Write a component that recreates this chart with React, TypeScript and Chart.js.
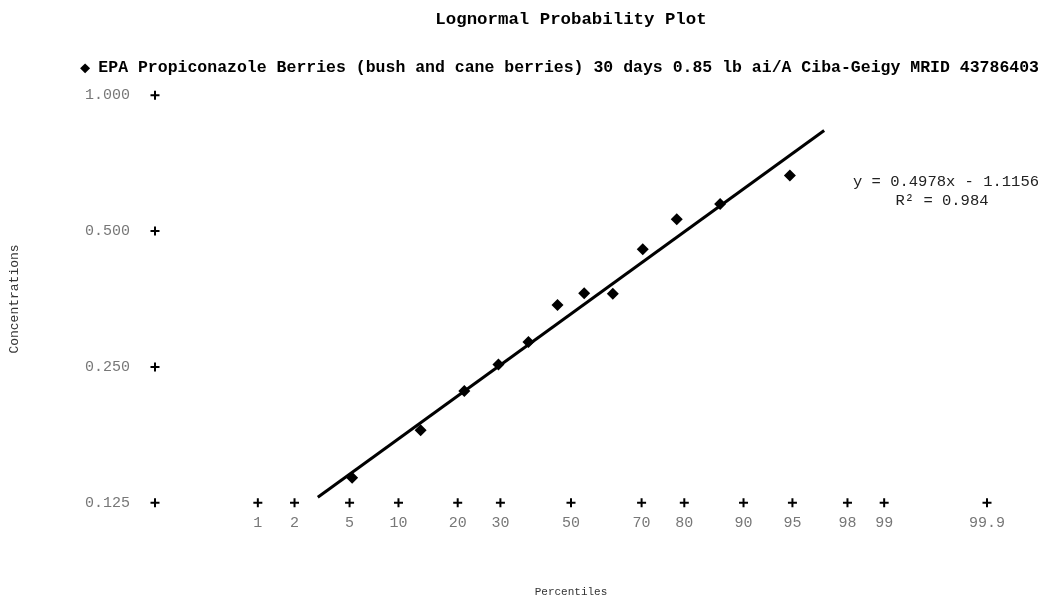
import React, { useEffect, useRef } from 'react';
import { Chart, registerables } from 'chart.js';

Chart.register(...registerables);

// ---------- data ----------
const TITLE = 'Lognormal Probability Plot';
const SERIES_NAME =
  'EPA Propiconazole Berries (bush and cane berries) 30 days 0.85 lb ai/A Ciba-Geigy MRID 43786403';
const X_TITLE = 'Percentiles';
const Y_TITLE = 'Concentrations';

// plotting positions (percentiles) and concentrations of the residue samples
const DATA_PERCENTILES = [5.2, 13.2, 21.4, 29.5, 37.6, 46.0, 53.9, 62.2, 70.3, 78.4, 86.6, 94.8];
const DATA_CONC = [0.142, 0.181, 0.221, 0.253, 0.284, 0.343, 0.364, 0.363, 0.456, 0.531, 0.574, 0.664];

// fitted trendline: ln(conc) = slope * z + intercept
const FIT_SLOPE = 0.4978;
const FIT_INTERCEPT = -1.1156;
const FIT_PCT_RANGE = [3, 97];
const EQUATION_TEXT = 'y = 0.4978x - 1.1156';
const R2_TEXT = 'R\u00B2 = 0.984';

// axes
const X_RANGE_PCTS = [0.1, 99.9];
const X_TICK_PCTS = [1, 2, 5, 10, 20, 30, 50, 70, 80, 90, 95, 98, 99, 99.9];
const X_TICK_LABELS = ['1', '2', '5', '10', '20', '30', '50', '70', '80', '90', '95', '98', '99', '99.9'];
const Y_TICKS = [0.125, 0.25, 0.5, 1];
const Y_TICK_LABELS = ['0.125', '0.250', '0.500', '1.000'];

// ---------- helpers ----------
function probit(p: number): number {
  const a = [-3.969683028665376e1, 2.209460984245205e2, -2.759285104469687e2, 1.38357751867269e2, -3.066479806614716e1, 2.506628277459239];
  const b = [-5.447609879822406e1, 1.615858368580409e2, -1.556989798598866e2, 6.680131188771972e1, -1.328068155288572e1];
  const c = [-7.784894002430293e-3, -3.223964580411365e-1, -2.400758277161838, -2.549732539343734, 4.374664141464968, 2.938163982698783];
  const d = [7.784695709041462e-3, 3.224671290700398e-1, 2.445134137142996, 3.754408661907416];
  const pl = 0.02425;
  const ph = 1 - pl;
  let q: number;
  let r: number;
  if (p < pl) {
    q = Math.sqrt(-2 * Math.log(p));
    return (((((c[0] * q + c[1]) * q + c[2]) * q + c[3]) * q + c[4]) * q + c[5]) /
      ((((d[0] * q + d[1]) * q + d[2]) * q + d[3]) * q + 1);
  }
  if (p > ph) {
    q = Math.sqrt(-2 * Math.log(1 - p));
    return -(((((c[0] * q + c[1]) * q + c[2]) * q + c[3]) * q + c[4]) * q + c[5]) /
      ((((d[0] * q + d[1]) * q + d[2]) * q + d[3]) * q + 1);
  }
  q = p - 0.5;
  r = q * q;
  return ((((((a[0] * r + a[1]) * r + a[2]) * r + a[3]) * r + a[4]) * r + a[5]) * q) /
    (((((b[0] * r + b[1]) * r + b[2]) * r + b[3]) * r + b[4]) * r + 1);
}
const z = (pct: number) => probit(pct / 100);

const MONO = "'Liberation Mono', 'DejaVu Sans Mono', monospace";

const equationPlugin = {
  id: 'equationText',
  afterDatasetsDraw(chart: any) {
    const { ctx, chartArea } = chart;
    ctx.save();
    ctx.fillStyle = '#222';
    ctx.font = `15.5px ${MONO}`;
    ctx.textAlign = 'center';
    ctx.textBaseline = 'middle';
    const cx = chartArea.right - 41;
    ctx.fillText(EQUATION_TEXT, cx, chartArea.top + 87);
    ctx.fillText(R2_TEXT, cx - 4, chartArea.top + 106);
    ctx.restore();
  },
};

const spacer = (axis: 'h' | 'v', size: number, position: string) => ({
  type: 'linear',
  position,
  display: true,
  grid: { display: false, drawTicks: false },
  border: { display: false },
  ticks: { display: false },
  afterFit: (s: any) => {
    if (axis === 'h') s.height = size;
    else s.width = size;
  },
});

export default function App() {
  const ref = useRef<HTMLCanvasElement | null>(null);

  useEffect(() => {
    if (!ref.current) return;
    const points = DATA_PERCENTILES.map((p, i) => ({ x: z(p), y: DATA_CONC[i] }));
    const fit = FIT_PCT_RANGE.map((p) => ({ x: z(p), y: Math.exp(FIT_SLOPE * z(p) + FIT_INTERCEPT) }));
    const xMarks = X_TICK_PCTS.map((p) => ({ x: z(p), y: Y_TICKS[0] }));
    const yMarks = Y_TICKS.map((v) => ({ x: z(X_RANGE_PCTS[0]), y: v }));

    const chart = new Chart(ref.current, {
      type: 'scatter',
      data: {
        datasets: [
          {
            label: SERIES_NAME,
            data: points,
            xAxisID: 'x',
            yAxisID: 'y',
            pointStyle: 'rectRot',
            pointRadius: 6,
            pointBorderWidth: 0,
            backgroundColor: '#000',
            borderColor: '#000',
            borderWidth: 0,
          },
          {
            label: 'fit',
            data: fit,
            xAxisID: 'x',
            yAxisID: 'y',
            showLine: true,
            borderColor: '#000',
            borderWidth: 3,
            pointRadius: 0,
          },
          {
            label: 'xmarks',
            data: xMarks,
            xAxisID: 'x',
            yAxisID: 'y',
            pointStyle: 'cross',
            pointRadius: 4.5,
            pointBorderWidth: 2,
            borderColor: '#000',
            clip: false,
          },
          {
            label: 'ymarks',
            data: yMarks,
            xAxisID: 'x',
            yAxisID: 'y',
            pointStyle: 'cross',
            pointRadius: 4.5,
            pointBorderWidth: 2,
            borderColor: '#000',
            clip: false,
          },
        ] as any,
      },
      plugins: [equationPlugin],
      options: {
        responsive: false,
        animation: false,
        layout: { padding: 0 },
        plugins: {
          tooltip: { enabled: false },
          title: {
            display: true,
            text: TITLE,
            fullSize: false,
            color: '#000',
            font: { family: MONO, size: 17.4, weight: 'bold' },
            padding: { top: 9.6, bottom: 19.6 },
          },
          legend: {
            display: true,
            position: 'top',
            align: 'end',
            labels: {
              usePointStyle: true,
              pointStyleWidth: 10,
              boxHeight: 7,
              color: '#000',
              font: { family: MONO, size: 16.5, weight: 'bold' },
              filter: (item: any) => item.datasetIndex === 0,
            },
          },
        },
        scales: {
          x: {
            type: 'linear',
            position: 'bottom',
            min: z(X_RANGE_PCTS[0]),
            max: z(X_RANGE_PCTS[1]),
            grid: { display: false, drawTicks: false },
            border: { display: false },
            afterBuildTicks: (s: any) => {
              s.ticks = X_TICK_PCTS.map((p) => ({ value: z(p) }));
            },
            afterFit: (s: any) => {
              s.height = 96.3;
            },
            ticks: {
              autoSkip: false,
              maxRotation: 0,
              minRotation: 0,
              padding: 11,
              color: '#777',
              font: { family: MONO, size: 15 },
              callback: (_v: any, i: number) => X_TICK_LABELS[i],
            },
            title: {
              display: true,
              text: X_TITLE,
              color: '#333',
              font: { family: MONO, size: 11 },
              padding: { top: 0, bottom: 0 },
            },
          },
          y: {
            type: 'logarithmic',
            position: 'left',
            min: Y_TICKS[0],
            max: Y_TICKS[Y_TICKS.length - 1],
            grid: { display: false, drawTicks: false },
            border: { display: false },
            afterBuildTicks: (s: any) => {
              s.ticks = Y_TICKS.map((v) => ({ value: v }));
            },
            afterFit: (s: any) => {
              s.width = 155;
            },
            ticks: {
              autoSkip: false,
              padding: 25,
              color: '#777',
              font: { family: MONO, size: 15 },
              callback: (_v: any, i: number) => Y_TICK_LABELS[i],
            },
            title: {
              display: true,
              text: Y_TITLE,
              color: '#333',
              font: { family: MONO, size: 13 },
              padding: { top: 7, bottom: 0 },
            },
          },
          xTop: spacer('h', 8.7, 'top'),
          yRight: spacer('v', 62, 'right'),
        },
      } as any,
    });
    return () => chart.destroy();
  }, []);

  return (
    <div style={{ position: 'fixed', left: 0, top: 0, width: 1049, height: 599, background: '#fff' }}>
      <canvas ref={ref} width={1049} height={599} style={{ display: 'block' }} />
    </div>
  );
}
